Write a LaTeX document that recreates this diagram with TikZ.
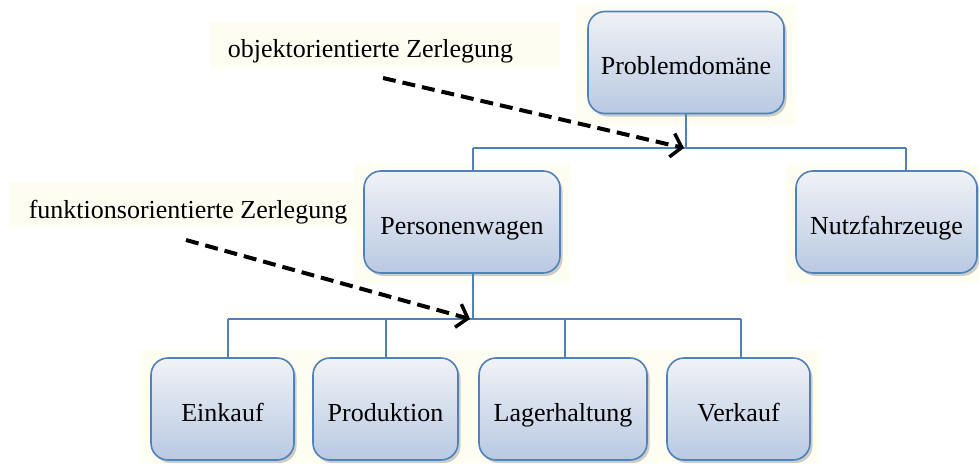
\documentclass[tikz,border=0pt]{standalone}
\usepackage{fontspec}
\setmainfont{Liberation Serif}
\usetikzlibrary{arrows.meta,shadows}
\definecolor{boxline}{HTML}{4F81BD}
\definecolor{boxtop}{HTML}{F0F2F6}
\definecolor{boxbot}{HTML}{B9C9E2}
\definecolor{cream}{HTML}{FEFDF2}
\tikzset{
  box/.style={draw=boxline, line width=1.6pt, rounded corners=17pt,
    top color=boxtop, bottom color=boxbot, minimum height=102pt,
    inner sep=0pt, text height=24pt, text depth=0pt,
    font=\fontsize{26}{29}\selectfont,
    drop shadow={shadow xshift=2.5pt, shadow yshift=-3pt, opacity=0.35, fill=black!55}},
  wire/.style={draw=boxline, line width=1.4pt},
  lbl/.style={font=\fontsize{26}{29}\selectfont, inner sep=0pt, anchor=base},
  hint/.style={draw=black, line width=4pt, dash pattern=on 13pt off 7pt,
    -{Straight Barb[length=10pt, width=24pt, line width=3.5pt]}},
  backdrop/.style={fill=cream, draw=none}
}
\begin{document}
\begin{tikzpicture}[x=1pt, y=-1pt]
  \useasboundingbox (0,0) rectangle (979,463);
  \fill[white] (0,0) rectangle (979,463);

  % pale backdrops behind labels and boxes
  \fill[backdrop] (210,22) rectangle (560,68);
  \fill[backdrop] (10,182) rectangle (360,227);
  \fill[backdrop] (576,4) rectangle (796,125);
  \fill[backdrop] (354,164) rectangle (570,283);
  \fill[backdrop] (786,164) rectangle (979,283);
  \fill[backdrop] (140,350) rectangle (820,463);

  % boxes
  \node[box, minimum width=196pt] (pd) at (686,62.5) {Problemdomäne};
  \node[box, minimum width=196pt] (pw) at (462,222) {Personenwagen};
  \node[box, minimum width=181pt] (nf) at (886.5,222) {Nutzfahrzeuge};
  \node[box, minimum width=143pt] (ek) at (222.5,409) {Einkauf};
  \node[box, minimum width=145pt] (pr) at (385.5,409) {Produktion};
  \node[box, minimum width=168pt] (lh) at (563,409) {Lagerhaltung};
  \node[box, minimum width=143pt] (vk) at (738.5,409) {Verkauf};

  % upper level connectors
  \coordinate (upL) at (473,148);
  \coordinate (upR) at (906,148);
  \draw[wire] (pd.south) -- (pd.south |- upL);
  \draw[wire] (upL) -- (upR);
  \draw[wire] (upL) -- (upL |- pw.north);
  \draw[wire] (upR) -- (upR |- nf.north);

  % lower level connectors
  \coordinate (lo1) at (228,319);
  \coordinate (lo2) at (386,319);
  \coordinate (lo3) at (565,319);
  \coordinate (lo4) at (741,319);
  \draw[wire] (pw.south -| upL) -- (upL |- lo1);
  \draw[wire] (lo1) -- (lo4);
  \draw[wire] (lo1) -- (lo1 |- ek.north);
  \draw[wire] (lo2) -- (lo2 |- pr.north);
  \draw[wire] (lo3) -- (lo3 |- lh.north);
  \draw[wire] (lo4) -- (lo4 |- vk.north);

  % annotations
  \node[lbl] (oz) at (370.5,57) {objektorientierte Zerlegung};
  \node[lbl] (fz) at (188,218) {funktionsorientierte Zerlegung};
  \coordinate (ozs) at (383,78);
  \coordinate (ozt) at (684,148);
  \coordinate (fzs) at (186,240);
  \coordinate (fzt) at (470,319);
  \draw[hint] (ozs) -- (ozt);
  \draw[hint] (fzs) -- (fzt);
\end{tikzpicture}
\end{document}
